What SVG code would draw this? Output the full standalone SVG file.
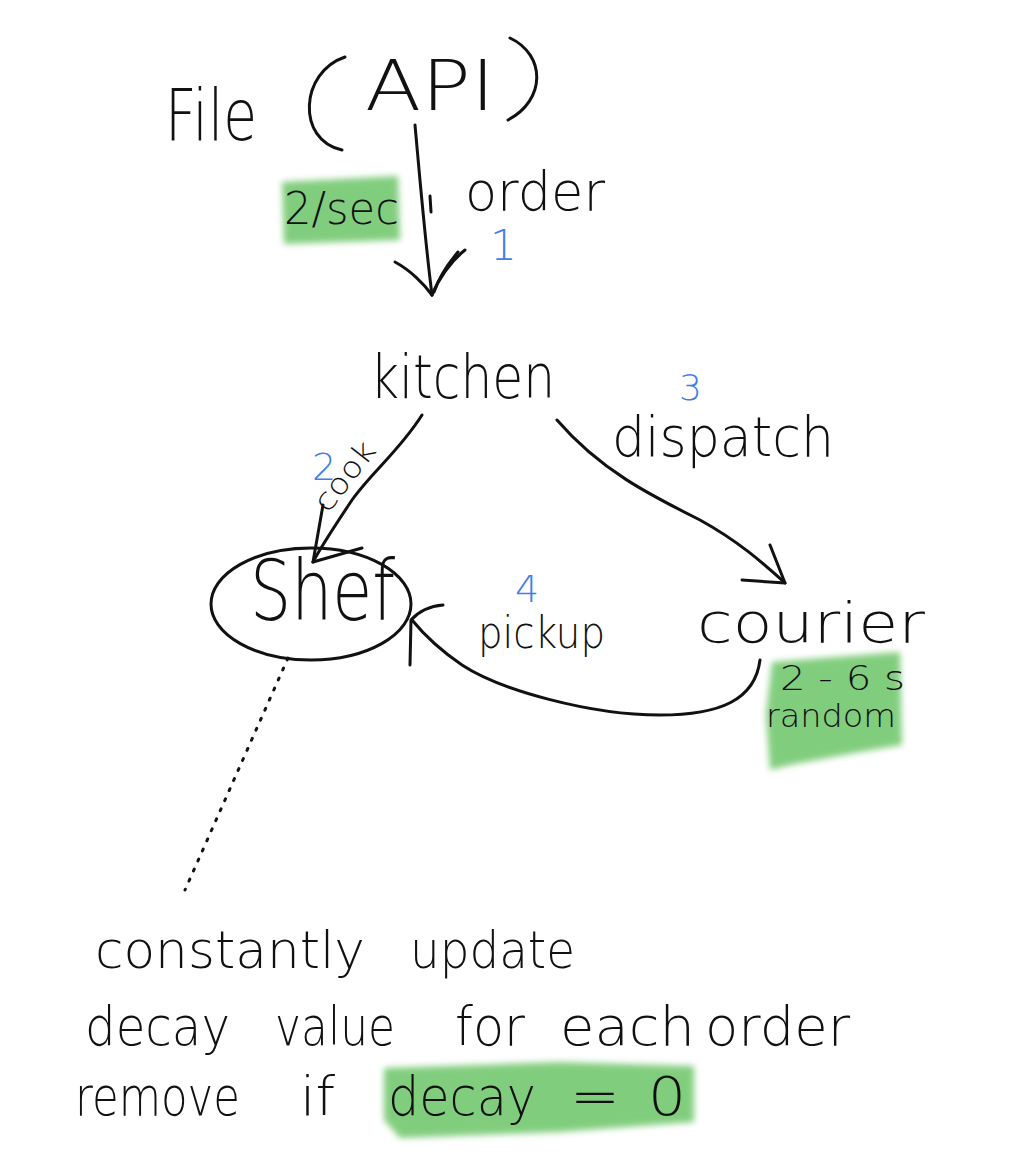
<svg xmlns="http://www.w3.org/2000/svg" width="1010" height="1158" viewBox="0 0 1010 1158">
<style>
text{font-family:"DejaVu Sans","Liberation Sans",sans-serif;font-weight:200;fill:#111}
.num{fill:#3f80e8;font-weight:300}
.ln{fill:none;stroke:#111;stroke-width:3;stroke-linecap:round;stroke-linejoin:round}
.hl{fill:#58bd52;opacity:0.75;filter:url(#soft)}
</style>
<defs>
<filter id="soft" x="-10%" y="-10%" width="120%" height="120%"><feGaussianBlur stdDeviation="3"/></filter>
</defs>
<rect width="1010" height="1158" fill="#fff"/>
<g id="highlights">
<path class="hl" d="M282,182 L398,176 L400,240 L284,244 Z"/>
<path class="hl" d="M772,662 L900,652 L902,745 L860,752 L790,765 L770,770 L766,715 Z"/>
<path class="hl" d="M384,1068 L560,1062 L694,1066 L694,1122 L560,1132 L400,1138 L384,1120 Z"/>
</g>
<g id="node-file">
<text x="165" y="140" font-size="72" textLength="92" lengthAdjust="spacingAndGlyphs">File</text>
<path class="ln" d="M345,57 C300,72 296,140 342,150"/>
<text x="365" y="110" font-size="70" textLength="130" lengthAdjust="spacingAndGlyphs">API</text>
<path class="ln" d="M510,38 C546,55 546,100 508,120"/>
</g>
<g id="node-kitchen">
<text x="370" y="398" font-size="60" textLength="185" lengthAdjust="spacingAndGlyphs">kitchen</text>
</g>
<g id="node-shef">
<ellipse class="ln" cx="311" cy="604" rx="100" ry="56"/>
<text x="250" y="620" font-size="84" textLength="145" lengthAdjust="spacingAndGlyphs">Shef</text>
</g>
<g id="node-courier">
<text x="697" y="642" font-size="56" textLength="228" lengthAdjust="spacingAndGlyphs">courier</text>
<text x="780" y="690" font-size="34" textLength="125" lengthAdjust="spacingAndGlyphs">2 - 6 s</text>
<text x="766" y="727" font-size="32" textLength="130" lengthAdjust="spacingAndGlyphs">random</text>
</g>
<g id="node-decay-note">
<text y="968" font-size="52"><tspan x="95" textLength="270" lengthAdjust="spacingAndGlyphs">constantly</tspan><tspan x="410" textLength="165" lengthAdjust="spacingAndGlyphs">update</tspan></text>
<text y="1045" font-size="54"><tspan x="85" textLength="145" lengthAdjust="spacingAndGlyphs">decay</tspan><tspan x="275" textLength="120" lengthAdjust="spacingAndGlyphs">value</tspan><tspan x="455" textLength="70" lengthAdjust="spacingAndGlyphs">for</tspan><tspan x="560" textLength="135" lengthAdjust="spacingAndGlyphs">each</tspan><tspan x="705" textLength="145" lengthAdjust="spacingAndGlyphs">order</tspan></text>
<text y="1115" font-size="54"><tspan x="75" textLength="165" lengthAdjust="spacingAndGlyphs">remove</tspan><tspan x="300" textLength="35" lengthAdjust="spacingAndGlyphs">if</tspan><tspan x="388" textLength="148" lengthAdjust="spacingAndGlyphs">decay</tspan><tspan x="570" textLength="50" lengthAdjust="spacingAndGlyphs">=</tspan><tspan x="648" textLength="38" lengthAdjust="spacingAndGlyphs">0</tspan></text>
</g>
<g id="connectors">
<path class="ln" d="M415,125 C420,180 425,240 432,295"/>
<path class="ln" d="M395,262 C410,270 424,284 432,295"/>
<path class="ln" d="M465,250 C450,262 438,280 432,295"/>
<path class="ln" d="M458,252 C447,265 438,280 434,292"/>
<path class="ln" d="M430,196 L431,212" stroke-width="2.5"/>
<text x="284" y="224" font-size="44" textLength="115" lengthAdjust="spacingAndGlyphs">2/sec</text>
<text x="465" y="210" font-size="54" textLength="140" lengthAdjust="spacingAndGlyphs">order</text>
<text class="num" x="490" y="260" font-size="42">1</text>

<path class="ln" d="M422,415 C400,450 372,472 352,500 C336,524 322,545 313,562"/>
<path class="ln" d="M323,505 L313,562 L362,548"/>
<text x="0" y="0" font-size="30" transform="translate(328,514) rotate(-52)" textLength="80" lengthAdjust="spacingAndGlyphs">cook</text>
<text class="num" x="312" y="480" font-size="38">2</text>

<path class="ln" d="M557,420 C600,470 650,495 700,520 C740,542 765,565 785,583"/>
<path class="ln" d="M770,545 L785,583 L742,580"/>
<text class="num" x="679" y="400" font-size="36">3</text>
<text x="612" y="456" font-size="56" textLength="222" lengthAdjust="spacingAndGlyphs">dispatch</text>

<path class="ln" d="M760,660 C755,700 720,715 660,715 C590,715 500,690 462,665 C440,650 425,636 412,620"/>
<path class="ln" d="M410,665 L411,620 C420,610 430,606 443,605"/>
<text class="num" x="515" y="602" font-size="38">4</text>
<text x="478" y="648" font-size="44" textLength="127" lengthAdjust="spacingAndGlyphs">pickup</text>

<path class="ln" d="M288,658 L185,890" stroke-width="2.5" stroke-dasharray="2 9"/>
</g>
</svg>
